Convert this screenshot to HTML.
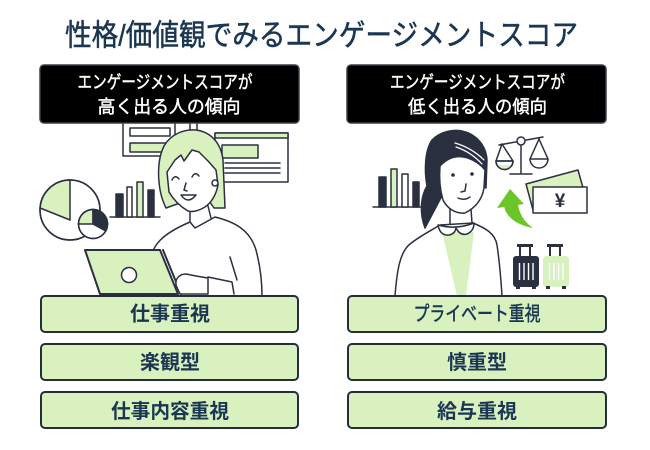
<!DOCTYPE html>
<html><head><meta charset="utf-8"><style>
html,body{margin:0;padding:0;background:#fff;}
svg{display:block;}
text{font-family:"Liberation Sans","Noto Sans CJK JP",sans-serif;}
</style></head><body>
<svg width="650" height="450" viewBox="0 0 650 450" xmlns="http://www.w3.org/2000/svg">
<rect width="650" height="450" fill="#fff"/>
<!-- Title -->
<text x="65" y="45.5" font-size="30" fill="#1b3652" stroke="#1b3652" stroke-width="0.5" textLength="513" lengthAdjust="spacingAndGlyphs">性格/価値観でみるエンゲージメントスコア</text>

<!-- ===== Left illustration ===== -->
<g stroke="#2b3040" stroke-width="1.5" stroke-linejoin="round" stroke-linecap="round">
  <rect x="123" y="122" width="52" height="34" fill="#fff"/>
  <rect x="130" y="128" width="40" height="8" fill="#fff"/>
  <rect x="130" y="143" width="42" height="9" fill="#d8f1bf"/>
  <line x1="190" y1="122" x2="190" y2="140"/>
  <line x1="197" y1="122" x2="197" y2="140"/>
  <rect x="215" y="133" width="73" height="49" fill="#fff"/>
  <rect x="215" y="133" width="73" height="5" fill="#d8f1bf"/>
  <rect x="222" y="145" width="36" height="13" fill="#d8f1bf"/>
  <line x1="225" y1="163" x2="280" y2="163"/>
  <line x1="225" y1="168" x2="280" y2="168"/>
  <line x1="225" y1="173" x2="280" y2="173"/>
  <circle cx="70" cy="210" r="30" fill="#fff"/>
  <path d="M70,220 L70,180 A30,30 0 0,0 40.1,208 Z" fill="#d8f1bf"/>
  <circle cx="70" cy="210" r="30" fill="none"/>
  <circle cx="93" cy="224" r="14.5" fill="#fff"/>
  <path d="M93,224 L93,209.5 A14.5,14.5 0 0,0 78.5,224 Z" fill="#d8f1bf"/>
  <path d="M93,224 L93,209.5 A14.5,14.5 0 0,1 105.7,231 Z" fill="#2b3040"/>
  <circle cx="93" cy="224" r="14.5" fill="none"/>
  <line x1="110" y1="217" x2="160" y2="217"/>
  <rect x="116" y="194" width="7" height="23" fill="#2b3040"/>
  <rect x="127" y="187" width="5" height="30" fill="#fff"/>
  <rect x="137" y="182" width="6" height="35" fill="#d8f1bf"/>
  <rect x="148" y="190" width="6" height="27" fill="#2b3040"/>
  <path d="M166,208 C157,190 156,162 164,146 C171,134 184,129 196,130 C211,132 221,143 223,160 L225,208 L214,208 L205,195 L180,203 Z" fill="#d8f1bf"/>
  <path d="M150,262 C152,245 162,234 190,222 L195,228 L215,217 C235,222 250,230 256,250 C260,265 262,280 262,296 L150,296 Z" fill="#fff"/>
  <line x1="190" y1="209" x2="190" y2="222" />
  <line x1="208" y1="206" x2="211" y2="218" />
  <path d="M167,172 L175,160 L181,155 L184,161 L192,150 L199,152 L208,161 L216,170 L218,185 Q215,200 205,207 Q195,213 188,211 Q176,204 169,192 Z" fill="#fff"/>
  <path d="M172,180 Q175,174 179,179" fill="none"/>
  <path d="M192,177 Q195,171 199,176" fill="none"/>
  <path d="M186,183 L184,190 L187,191" fill="none"/>
  <path d="M181,195 Q188,205 196,195 Z" fill="#fff"/>
  <circle cx="215" cy="183" r="3" fill="#fff"/>
  <line x1="230" y1="257" x2="237" y2="280"/>
  <polygon points="85,250 160,250 178,294 100,294" fill="#d8f1bf" stroke-width="2"/>
  <line x1="163" y1="250" x2="181" y2="294" stroke-width="2"/>
  <circle cx="129" cy="275" r="7.5" fill="#fff"/>
  <path d="M180,294 L176,285 C175,278 180,274 186,274 L196,276 L208,278 L208,294 Z" fill="#fff"/>
  <path d="M208,277 L232,282 L234,294" fill="#fff"/>
</g>

<!-- ===== Right illustration ===== -->
<g stroke="#2b3040" stroke-width="1.5" stroke-linejoin="round" stroke-linecap="round">
  <line x1="373" y1="207" x2="426" y2="207"/>
  <rect x="379" y="177" width="7" height="30" fill="#2b3040"/>
  <rect x="391" y="169" width="6" height="38" fill="#d8f1bf"/>
  <rect x="402" y="174" width="6" height="33" fill="#fff"/>
  <rect x="413" y="182" width="6" height="25" fill="#2b3040"/>
  <path d="M425,228 C419,212 421,196 427,186 C424,170 425,150 432,140 C440,132 452,129 462,131 C476,134 486,145 487,160 L486,188 L470,180 L445,190 Z" fill="#2b3040"/>
  <path d="M455,143 Q472,148 484,160" fill="none" stroke="#fff" stroke-width="1.2"/>
  <path d="M456,147 Q471,152 482,164" fill="none" stroke="#fff" stroke-width="1.2"/>
  <path d="M395,296 C397,270 400,252 410,244 C420,236 432,230 440,225 L473,223 C485,228 495,233 497,245 C500,265 501,280 502,296 Z" fill="#fff"/>
  <polygon points="442,232 474,232 466,296 457,296" fill="#d8f1bf" stroke="none"/>
  <line x1="450" y1="206" x2="450" y2="224"/>
  <line x1="471" y1="209" x2="472" y2="223"/>
  <path d="M438,225 Q440,236 449,235 Q455,234 456,228 Q460,236 467,234 Q474,231 474,223 Q456,230 438,225 Z" fill="#fff"/>
  <path d="M440,166 Q452,153 468,158 Q479,162 485,170 L484,188 C482,200 475,208 465,213 C455,214 447,208 443,200 C440,190 439,178 440,166 Z" fill="#fff"/>
  <circle cx="453" cy="175" r="1.8" fill="#2b3040" stroke="none"/>
  <circle cx="472" cy="174" r="1.8" fill="#2b3040" stroke="none"/>
  <path d="M466,184 L465,191 L461,192" fill="none"/>
  <path d="M458,198 Q464,201 470,197" fill="none"/>
  <line x1="499" y1="145" x2="543" y2="137"/>
  <line x1="521" y1="145" x2="521" y2="173"/>
  <line x1="510" y1="174" x2="532" y2="174"/>
  <line x1="502" y1="144" x2="496" y2="161"/>
  <line x1="502" y1="144" x2="513" y2="161"/>
  <path d="M496,161 L513,161 A8.5,8.5 0 0,1 496,161 Z" fill="#fff"/>
  <path d="M497,165 L512,165 A8.5,8.5 0 0,1 497,165 Z" fill="#d8f1bf" stroke="none"/>
  <path d="M496,161 L513,161 A8.5,8.5 0 0,1 496,161 Z" fill="none"/>
  <line x1="539" y1="139" x2="530" y2="159"/>
  <line x1="539" y1="139" x2="548" y2="159"/>
  <path d="M530,159 L548,159 A9,9 0 0,1 530,159 Z" fill="#fff"/>
  <circle cx="521" cy="141" r="4" fill="#fff"/>
  <polygon points="526,184 578,170 585,195 533,210" fill="#d8f1bf"/>
  <rect x="533" y="187" width="54" height="26" fill="#fff"/>
  <polygon points="510,189 497,208 524,204" fill="#6cc62a" stroke="none"/>
  <path d="M504,205 C505,216 516,225 533,228 C523,221 519,212 518,204 Z" fill="#6cc62a" stroke="none"/>
</g>
<text x="560" y="207" font-size="19" font-weight="bold" fill="#2b3040" text-anchor="middle">¥</text>
<g>
  <rect x="517" y="244" width="16" height="3" fill="#2b3040"/>
  <rect x="519" y="246" width="2" height="11" fill="#2b3040"/>
  <rect x="529" y="246" width="2" height="11" fill="#2b3040"/>
  <rect x="513" y="256" width="26" height="31" rx="3" fill="#2b3040"/>
  <rect x="516" y="286" width="4" height="3" fill="#2b3040"/>
  <rect x="532" y="286" width="4" height="3" fill="#2b3040"/>
  <g stroke="#fff" stroke-width="1.4">
    <line x1="519.5" y1="263" x2="519.5" y2="280"/>
    <line x1="524" y1="263" x2="524" y2="280"/>
    <line x1="528.5" y1="263" x2="528.5" y2="280"/>
    <line x1="533" y1="263" x2="533" y2="280"/>
  </g>
  <rect x="547" y="244" width="16" height="3" fill="#2b3040"/>
  <rect x="549" y="246" width="2" height="11" fill="#2b3040"/>
  <rect x="559" y="246" width="2" height="11" fill="#2b3040"/>
  <rect x="543" y="256" width="26" height="31" rx="3" fill="#d8f1bf"/>
  <rect x="546" y="286" width="4" height="3" fill="#2b3040"/>
  <rect x="562" y="286" width="4" height="3" fill="#2b3040"/>
  <g stroke="#fff" stroke-width="1.4">
    <line x1="549.5" y1="263" x2="549.5" y2="280"/>
    <line x1="554" y1="263" x2="554" y2="280"/>
    <line x1="558.5" y1="263" x2="558.5" y2="280"/>
    <line x1="563" y1="263" x2="563" y2="280"/>
  </g>
</g>

<rect x="40" y="65" width="259" height="58" rx="4" fill="#000" stroke="#3a3e48" stroke-width="1.5"/>
<rect x="347" y="65" width="259" height="58" rx="4" fill="#000" stroke="#3a3e48" stroke-width="1.5"/>
<g fill="#fff" stroke="#fff" stroke-width="0.45" font-size="18" text-anchor="middle">
  <text x="165" y="88.5" textLength="175" lengthAdjust="spacingAndGlyphs">エンゲージメントスコアが</text>
  <text x="169" y="113" textLength="143" lengthAdjust="spacingAndGlyphs">高く出る人の傾向</text>
  <text x="477.5" y="88.5" textLength="175" lengthAdjust="spacingAndGlyphs">エンゲージメントスコアが</text>
  <text x="477.5" y="113" textLength="139" lengthAdjust="spacingAndGlyphs">低く出る人の傾向</text>
</g>

<g fill="#d8f1bf" stroke="#262c3a" stroke-width="2">
  <rect x="41" y="296" width="257" height="36" rx="4"/>
  <rect x="41" y="344" width="257" height="36" rx="4"/>
  <rect x="41" y="392" width="257" height="36" rx="4"/>
  <rect x="348" y="296" width="258" height="36" rx="4"/>
  <rect x="348" y="344" width="258" height="36" rx="4"/>
  <rect x="348" y="392" width="258" height="36" rx="4"/>
</g>
<g fill="#1b3652" font-size="20" font-weight="bold" text-anchor="middle">
  <text x="170" y="320.5">仕事重視</text>
  <text x="170" y="369">楽観型</text>
  <text x="170" y="418" textLength="118" lengthAdjust="spacingAndGlyphs">仕事内容重視</text>
  <text x="477" y="320.5" textLength="127" lengthAdjust="spacingAndGlyphs" font-weight="normal" stroke="#1b3652" stroke-width="0.5">プライベート重視</text>
  <text x="477" y="369">慎重型</text>
  <text x="477" y="418">給与重視</text>
</g>
</svg>
</body></html>
